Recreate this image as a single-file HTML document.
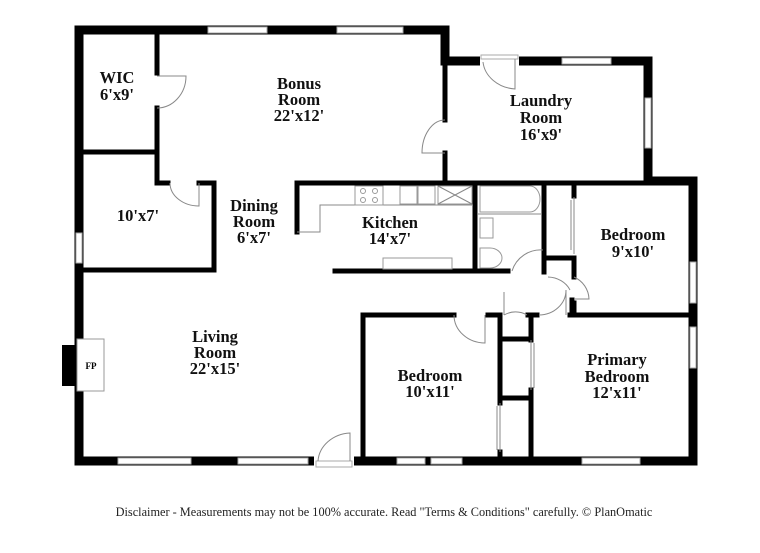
<!DOCTYPE html>
<html><head><meta charset="utf-8"><style>
html,body{margin:0;padding:0;background:#fff}
svg{display:block}
.t{font-family:"Liberation Serif",serif;font-weight:bold;font-size:16.5px;fill:#111;text-anchor:middle}
.w{stroke:#000;stroke-linecap:square;fill:none}
.g{stroke:#999;stroke-width:1;fill:#fff}
.win{fill:#fff;stroke:#aaa;stroke-width:1}
.d{fill:none;stroke:#888;stroke-width:1}
</style></head><body>
<svg width="760" height="553" viewBox="0 0 760 553" xmlns="http://www.w3.org/2000/svg">
<rect width="760" height="553" fill="#fff"/>
<g class="w" stroke-width="9">
<path d="M79 30 H445 V61 H648 V181 H693 V461 H79 Z"/>
</g>
<rect x="62" y="345" width="17" height="41" fill="#000"/>
<rect x="77" y="339" width="27" height="52" fill="#fff" stroke="#999"/>
<text x="91" y="369" font-family="Liberation Serif,serif" font-weight="bold" font-size="9" text-anchor="middle">FP</text>
<rect class="win" x="208" y="27" width="59" height="6"/>
<rect class="win" x="337" y="27" width="66" height="6"/>
<rect class="win" x="562" y="58" width="49" height="6"/>
<rect class="win" x="76" y="233" width="6" height="30"/>
<rect class="win" x="645" y="98" width="6" height="50"/>
<rect class="win" x="690" y="262" width="6" height="41"/>
<rect class="win" x="690" y="327" width="6" height="41"/>
<rect class="win" x="118" y="458" width="73" height="6"/>
<rect class="win" x="238" y="458" width="70" height="6"/>
<rect class="win" x="397" y="458" width="28" height="6"/>
<rect class="win" x="431" y="458" width="31" height="6"/>
<rect class="win" x="582" y="458" width="58" height="6"/>
<rect x="480" y="56" width="39" height="10" fill="#fff"/>
<rect x="481" y="55" width="37" height="4" fill="#fff" stroke="#aaa"/>
<path class="d" d="M515 59 V89 A35 30 0 0 1 483 62"/>
<rect x="314" y="456" width="40" height="10" fill="#fff"/>
<rect x="316" y="461" width="36" height="6" fill="#fff" stroke="#aaa"/>
<path class="d" d="M350 461 V433 A34 30 0 0 0 318 461"/>
<g class="w" stroke-width="5">
<path d="M157 30 V73 M157 108 V183"/>
<path d="M79 152 H157"/>
<path d="M157 183 H168 M199 183 H214 V270 H79"/>
<path d="M445 30 V120 M445 153 V181"/>
<path d="M297 183 H693"/>
<path d="M297 183 V232"/>
<path d="M335 271 H508"/>
<path d="M475 183 V271"/>
<path d="M544 183 V272 M544 258 H574 V277"/>
<path d="M574 183 V196 M574 303 V315"/>
<path d="M363 315 V461 M363 315 H454"/>
<path d="M488 315 H500 V403 M500 452 V461"/>
<path d="M500 339 H530 M500 398 H530"/>
<path d="M528 315 H537 M531 315 V340 M531 390 V461"/>
<path d="M570 315 H693 M572 300 V315"/>
</g>
<path class="d" d="M574 197 V254 M571 200 V250"/>
<path class="d" d="M500 403 V452 M497 406 V450"/>
<path class="d" d="M531 340 V390 M534 343 V388"/>
<path class="d" d="M157 76 H186 A29 32 0 0 1 157 108"/>
<path class="d" d="M199 183 V206 A29 23 0 0 1 170 183"/>
<path class="d" d="M445 120 A23 33 0 0 0 422 153 H445"/>
<path class="d" d="M454 315 A31 28 0 0 0 485 343 V315"/>
<path class="d" d="M504 315 A23 23 0 0 1 527 315 M504 315 V292"/>
<path class="d" d="M539 315 A27 25 0 0 0 566 290 V315"/>
<path class="d" d="M512 271 A30 30 0 0 1 543 250"/>
<path class="d" d="M574 277 A25 25 0 0 1 589 299 H574"/>
<path class="d" d="M548 277 A25 22 0 0 1 570 290"/>
<path class="d" d="M297 232 H320 V205 H473"/>
<rect class="g" x="355" y="186" width="28" height="19"/>
<circle cx="363" cy="191" r="2.5" class="g"/><circle cx="375" cy="191" r="2.5" class="g"/>
<circle cx="363" cy="200" r="2.5" class="g"/><circle cx="375" cy="200" r="2.5" class="g"/>
<rect class="g" x="400" y="186" width="17" height="18"/><rect class="g" x="418" y="186" width="17" height="18"/>
<rect class="g" x="438" y="186" width="34" height="18"/>
<path class="d" d="M438 186 L472 204 M472 186 L438 204"/>
<rect class="g" x="383" y="258" width="69" height="11"/>
<path class="g" d="M480 186 H530 A10 13 0 0 1 530 212 H480 Z"/>
<path class="d" d="M478 214 H542"/>
<rect class="g" x="480" y="218" width="13" height="20"/>
<path class="g" d="M480 248 H490 A12 10 0 0 1 490 268 H480 Z"/>
<text class="t" x="117" y="83">WIC</text>
<text class="t" x="117" y="100">6'x9'</text>
<text class="t" x="299" y="89">Bonus</text>
<text class="t" x="299" y="105">Room</text>
<text class="t" x="299" y="121">22'x12'</text>
<text class="t" x="541" y="106">Laundry</text>
<text class="t" x="541" y="123">Room</text>
<text class="t" x="541" y="140">16'x9'</text>
<text class="t" x="138" y="221">10'x7'</text>
<text class="t" x="254" y="211">Dining</text>
<text class="t" x="254" y="227">Room</text>
<text class="t" x="254" y="243">6'x7'</text>
<text class="t" x="390" y="228">Kitchen</text>
<text class="t" x="390" y="244">14'x7'</text>
<text class="t" x="633" y="240">Bedroom</text>
<text class="t" x="633" y="257">9'x10'</text>
<text class="t" x="215" y="342">Living</text>
<text class="t" x="215" y="358">Room</text>
<text class="t" x="215" y="374">22'x15'</text>
<text class="t" x="430" y="381">Bedroom</text>
<text class="t" x="430" y="397">10'x11'</text>
<text class="t" x="617" y="365">Primary</text>
<text class="t" x="617" y="382">Bedroom</text>
<text class="t" x="617" y="398">12'x11'</text>
<text x="384" y="516" font-family="Liberation Serif,serif" font-size="12.3" fill="#222" text-anchor="middle">Disclaimer - Measurements may not be 100% accurate. Read "Terms &amp; Conditions" carefully. © PlanOmatic</text>
</svg>
</body></html>
